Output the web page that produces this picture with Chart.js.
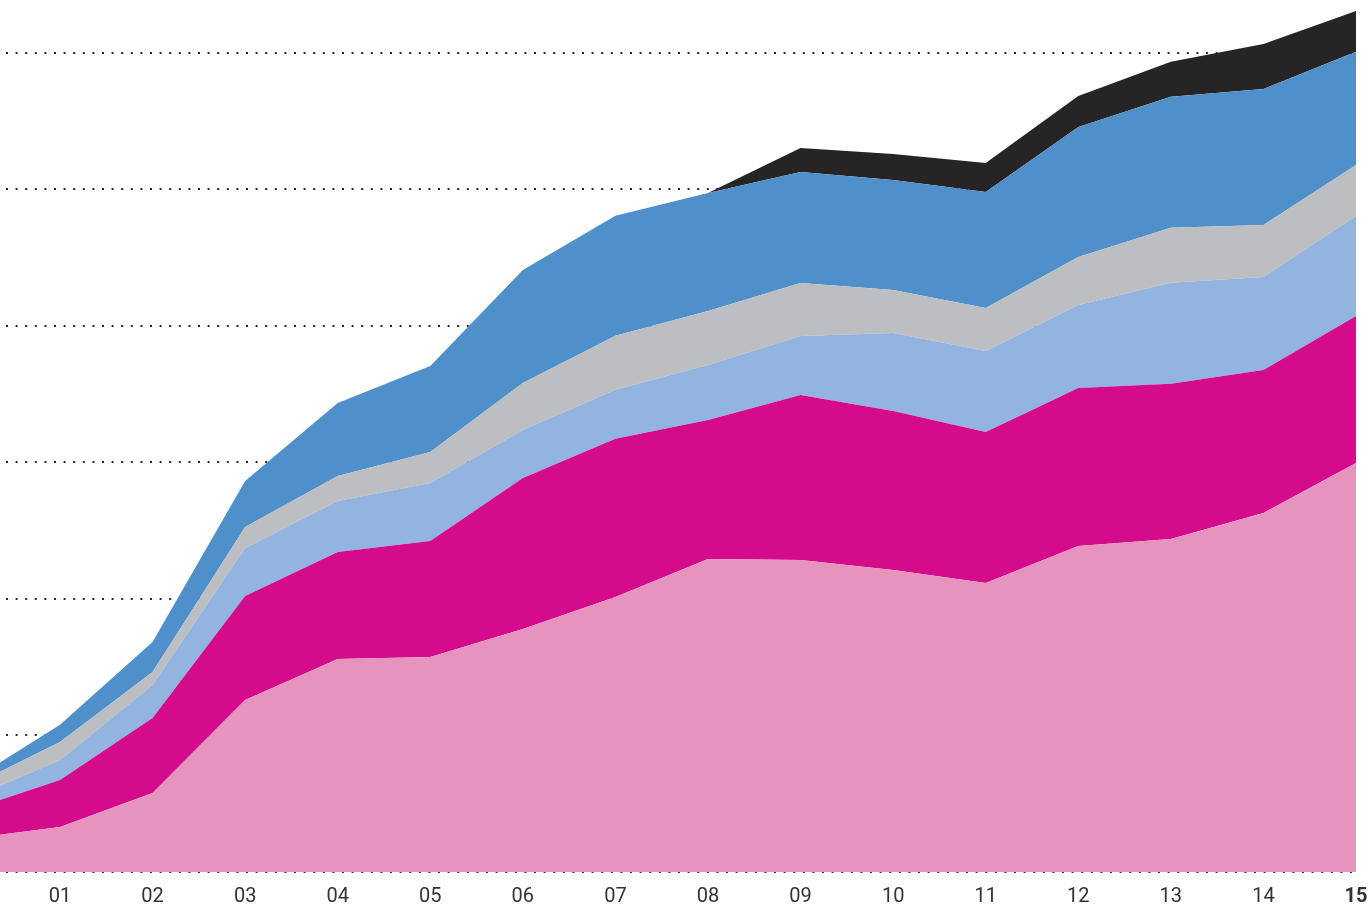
<!DOCTYPE html>
<html>
<head>
<meta charset="utf-8">
<style>
  html, body { margin: 0; padding: 0; background: #fff; }
  #wrap { width: 1371px; height: 906px; position: relative; }
</style>
<script src="https://cdn.jsdelivr.net/npm/chart.js@4/dist/chart.umd.min.js"></script>
</head>
<body>
<div id="wrap"><canvas id="chart"></canvas></div>
<script>
const years = [0, 1, 2, 3, 4, 5, 6, 7, 8, 9, 10, 11, 12, 13, 14, 15]
const yearLabels = ["00", "01", "02", "03", "04", "05", "06", "07", "08", "09", "10", "11", "12", "13", "14", "15"]
const gridTicks = [0, 100, 200, 300, 400, 500, 600]

// stacked from the bottom up
const pinkLight = [24.2, 33.0, 57.9, 126.0, 156.0, 157.5, 178.0, 201.5, 229.3, 228.6, 221.2, 211.7, 238.8, 244.0, 263.0, 299.6]
const magenta = [20.5, 34.4, 54.9, 76.2, 78.4, 85.0, 110.6, 115.8, 101.8, 120.9, 116.5, 110.6, 115.8, 113.6, 104.8, 107.7]
const blueLight = [8.1, 14.7, 24.2, 35.2, 37.4, 42.5, 35.2, 35.9, 40.3, 43.2, 57.1, 59.3, 60.8, 74.0, 68.1, 73.3]
const grey = [8.8, 13.2, 9.5, 15.4, 18.3, 22.7, 34.4, 39.6, 39.6, 38.8, 31.5, 31.5, 35.2, 40.3, 38.1, 37.4]
const blue = [3.7, 12.5, 22.0, 33.7, 53.5, 63.0, 82.8, 87.9, 86.4, 81.3, 80.6, 85.0, 95.2, 96.0, 99.6, 82.8]
const black = [0, 0, 0, 0, 0, 0, 0, 0, 0, 17.6, 19.0, 21.2, 22.7, 25.6, 33.0, 30.0]

const series = [
  { values: pinkLight, color: "#e693be" },
  { values: magenta, color: "#d40c8b" },
  { values: blueLight, color: "#93b4df" },
  { values: grey, color: "#bdbec2" },
  { values: blue, color: "#4f90cb" },
  { values: black, color: "#262425" }
]

const datasets = series.map((s, i) => ({
  data: s.values.map((v, j) => ({ x: years[j], y: v })),
  backgroundColor: s.color,
  borderColor: s.color,
  borderWidth: 0,
  pointRadius: 0,
  tension: 0,
  fill: i === 0 ? "origin" : "-1"
}))

new Chart(document.getElementById("chart"), {
  type: "line",
  data: { datasets },
  options: {
    responsive: true,
    maintainAspectRatio: false,
    animation: false,
    layout: { padding: { left: 0, right: 15, top: 0, bottom: 0 } },
    plugins: {
      legend: { display: false },
      tooltip: { enabled: false }
    },
    scales: {
      x: {
        type: "linear",
        min: 0.352,
        max: 15,
        grid: { display: false },
        border: { display: false },
        afterBuildTicks(scale) {
          scale.ticks = years.filter(y => y >= 1).map(v => ({ value: v }))
        },
        afterFit(scale) {
          scale.height = 34
          scale.paddingLeft = 0
          scale.paddingRight = 0
        },
        ticks: {
          autoSkip: false,
          maxRotation: 0,
          padding: 5,
          color: "#333",
          font: (ctx) => ({
            family: "Roboto, 'Liberation Sans', sans-serif",
            size: 20,
            weight: ctx.tick && ctx.tick.value === 15 ? "bold" : "normal"
          }),
          callback: (v) => yearLabels[v]
        }
      },
      y: {
        stacked: true,
        min: 0,
        max: 638.8,
        afterBuildTicks(scale) {
          scale.ticks = gridTicks.map(v => ({ value: v }))
        },
        afterFit(scale) { scale.width = 0 },
        ticks: { display: false },
        grid: {
          color: "#2a2a2a",
          lineWidth: 2,
          drawTicks: false
        },
        border: { display: false, dash: [2, 7.6], dashOffset: -6 }
      }
    }
  }
})
</script>
</body>
</html>
